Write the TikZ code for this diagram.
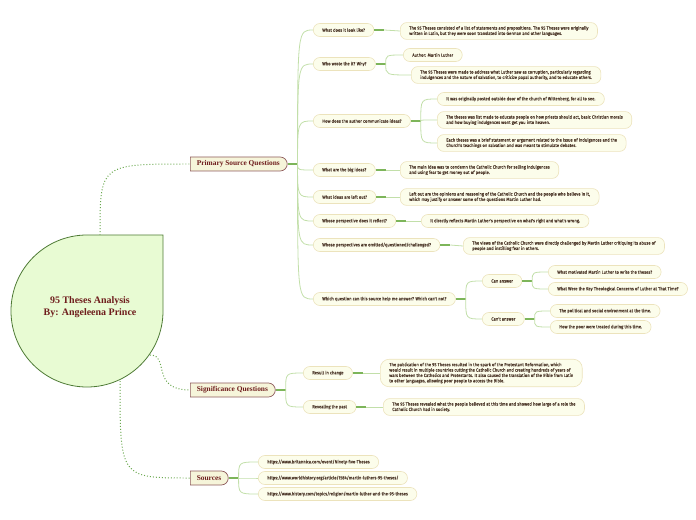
\documentclass[tikz,border=0pt]{standalone}
\usepackage{fontspec}
\setmainfont{Fira Sans}
\newfontfamily\leaffont{Fira Sans}[FakeStretch=0.93, FakeBold=0.3]
\newfontfamily\titlefont{Liberation Serif}
\usetikzlibrary{positioning,calc,shapes.misc}

\definecolor{leaffill}{HTML}{FCFDEB}
\definecolor{leafline}{HTML}{ECE3BC}
\definecolor{topicfill}{HTML}{F6F5DA}
\definecolor{topicline}{HTML}{8E5B5B}
\definecolor{maroon}{HTML}{6E1C1C}
\definecolor{inktext}{HTML}{4F3A2C}
\definecolor{rootfill}{HTML}{E8FBD3}
\definecolor{rootline}{HTML}{4E7A35}
\definecolor{stubgreen}{HTML}{7DB55A}
\definecolor{twiggreen}{HTML}{C2DFA9}
\definecolor{dotgreen}{HTML}{6AA84F}

\tikzset{
  leaf/.style={draw=leafline, fill=leaffill, line width=0.6pt, rounded corners=6.5bp,
    inner xsep=9bp, inner ysep=3.5bp, minimum height=13bp, align=left, anchor=west,
    font=\leaffont\fontsize{4.5}{5.4}\selectfont, text=inktext},
  topic/.style={rounded rectangle, rounded rectangle left arc=none, draw=topicline,
    fill=topicfill, line width=0.7pt, inner xsep=6.5bp, minimum height=14bp, anchor=west,
    font=\titlefont\bfseries\fontsize{7.4}{8.5}\selectfont, text=maroon},
  stub/.style={stubgreen, line width=1.4pt},
  twig/.style={twiggreen, line width=0.8pt},
  tie/.style={dotgreen, dotted, line width=1pt}
}

\begin{document}
\begin{tikzpicture}[x=1bp, y=-1bp]
    \useasboundingbox (0,0) rectangle (696,520);

    % central idea
    \draw[rootline, fill=rootfill, line width=0.8pt]
        (163,311) arc[start angle=0, end angle=270, radius=76] -- (163,235) -- cycle;
    \node[align=center, text=maroon, font=\titlefont\bfseries\fontsize{10}{12}\selectfont]
        (root) at (90,307) {95 Theses Analysis\\By: Angeleena Prince};
    \coordinate (root-top) at (100,235);
    \coordinate (root-right) at (150,355);
    \coordinate (root-low) at (120,381);

    % main topics
    \node[topic] (prim) at (190,164) {Primary Source Questions};
    \node[topic] (sig) at (190,390) {Significance Questions};
    \node[topic] (src) at (190,478) {Sources};

    % primary source questions
    \node[leaf] (q-look) at (313,30) {What does it look like?};
    \node[leaf] (q-who) at (313,64) {Who wrote the it? Why?};
    \node[leaf] (q-how) at (313,121) {How does the author communicate ideas?};
    \node[leaf] (q-big) at (313,170) {What are the big ideas?};
    \node[leaf] (q-left) at (313,197) {What ideas are left out?};
    \node[leaf] (q-persp) at (313,221) {Whose perspective does it reflect?};
    \node[leaf] (q-omit) at (313,245) {Whose perspectives are omitted/questioned/challenged?};
    \node[leaf] (q-which) at (313,299) {Which question can this source help me answer? Which can't not?};

    \node[leaf] (a-look) at (400,31) {The 95 Theses consisted of a list of statements and propositions. The 95 Theses were originally\\written in Latin, but they were soon translated into German and other languages.};
    \node[leaf] (a-author) at (403,55) {Author: Martin Luther};
    \node[leaf] (a-why) at (411,75) {The 95 Theses were made to address what Luther saw as corruption, particularly regarding\\indulgences and the nature of salvation, to criticize papal authority, and to educate others.};
    \node[leaf] (a-post) at (437,99) {It was originally posted outside door of the church of Wittenberg, for all to see.};
    \node[leaf] (a-list) at (437,120) {The theses was list made to educate people on how priests should act, basic Christian morals\\and how buying indulgences wont get you into heaven.};
    \node[leaf] (a-brief) at (437,143) {Each theses was a brief statement or argument related to the issue of indulgences and the\\Church's teachings on salvation and was meant to stimulate debates.};
    \node[leaf] (a-big) at (400,170) {The main idea was to condemn the Catholic Church for selling indulgences\\and using fear to get money out of people.};
    \node[leaf] (a-left) at (400,197) {Left out are the opinions and reasoning of the Catholic Church and the people who believe in it,\\which may justify or answer some of the questions Martin Luther had.};
    \node[leaf] (a-persp) at (421,221) {It directly reflects Martin Luther's perspective on what's right and what's wrong.};
    \node[leaf] (a-omit) at (463,246) {The views of the Catholic Church were directly challenged by Martin Luther critiquing its abuse of\\people and instilling fear in others.};

    \node[leaf] (can) at (482,281) {Can answer};
    \node[leaf] (cant) at (482,319) {Can't answer};
    \node[leaf] (can-1) at (548,272) {What motivated Martin Luther to write the theses?};
    \node[leaf] (can-2) at (548,289) {What Were the Key Theological Concerns of Luther at That Time?};
    \node[leaf] (cant-1) at (550,311) {The political and social environment at the time.};
    \node[leaf] (cant-2) at (550,327) {How the poor were treated during this time.};

    % significance questions
    \node[leaf] (sig-change) at (303,373) {Result in change};
    \node[leaf] (sig-past) at (303,407) {Revealing the past};
    \node[leaf, rounded corners=9bp] (a-change) at (380,373) {The publication of the 95 Theses resulted in the spark of the Protestant Reformation, which\\would result in multiple countries cutting the Catholic Church and creating hundreds of years of\\wars between the Catholics and Protestants. It also caused the translation of the Bible from Latin\\to other languages, allowing poor people to access the Bible.};
    \node[leaf] (a-past) at (383,407) {The 95 Theses revealed what the people believed at this time and showed how large of a role the\\Catholic Church had in society.};

    % sources
    \node[leaf] (src-1) at (258,462) {https://www.britannica.com/event/Ninety-five-Theses};
    \node[leaf] (src-2) at (258,478) {https://www.worldhistory.org/article/1584/martin-luthers-95-theses/};
    \node[leaf] (src-3) at (258,494) {https://www.history.com/topics/religion/martin-luther-and-the-95-theses};

    % dotted ties from the centre
    \draw[tie] (root-top) .. controls (root-top |- prim.west) .. (prim.west);
    \draw[tie] (root-right) .. controls ($(root-right)!0.5!(root-right -| sig.west)$) and (root-right |- sig.west) .. (sig.west);
    \draw[tie] (root-low) .. controls (root-low |- src.west) .. (src.west);

    % branches
    \foreach \p/\kids in {prim/{q-look,q-who,q-how,q-big,q-left,q-persp,q-omit,q-which},
                          q-who/{a-author,a-why}, q-how/{a-post,a-list,a-brief},
                          q-which/{can,cant}, can/{can-1,can-2}, cant/{cant-1,cant-2},
                          sig/{sig-change,sig-past}, src/{src-1,src-2,src-3}}{
        \coordinate (\p-fork) at ($(\p.east)+(10,0)$);
        \draw[stub] (\p.east) -- (\p-fork);
        \foreach \c in \kids
            \draw[twig] (\p-fork) .. controls (\p-fork |- \c.west) .. (\c.west);
    }
    \foreach \q/\a in {q-look/a-look, q-big/a-big, q-left/a-left, q-persp/a-persp,
                       q-omit/a-omit, sig-change/a-change, sig-past/a-past}{
        \draw[stub] (\q.east) -- ++(10,0) coordinate (\q-fork);
        \draw[twig] (\q-fork) -- (\a.west);
    }
\end{tikzpicture}
\end{document}
